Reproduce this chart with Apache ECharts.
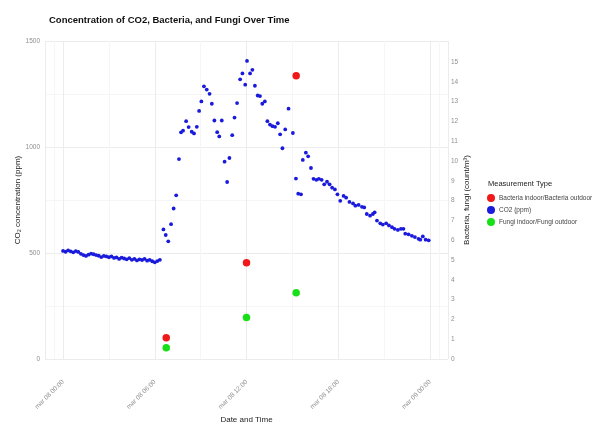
<!DOCTYPE html>
<html>
<head>
<meta charset="utf-8">
<script src="https://cdn.jsdelivr.net/npm/echarts@6/dist/echarts.min.js"></script>
<style>html,body{margin:0;padding:0;background:#fff}#c{width:611px;height:429px}</style>
</head>
<body>
<div id="c"></div>
<script>
// ---- data ----
const baseDate = Date.UTC(2023, 2, 8, 0, 0);   // mar 08 00:00
const monthLabel = 'mar';
const leftTicks = [0, 500, 1000, 1500];
// CO2 flat night section: every 10 minutes from 00:00
const co2FlatPpm = [510,506,512,508,503,509,505,496,490,486,492,497,494,490,487,481,486,484,480,484,477,479,472,478,474,470,476,468,472,465,470,467,472,464,468,461,456,462,468];
// CO2 after 06:30 (minutes since 00:00)
const co2Minutes = [394,403,413,424,434,444,455,463,471,483,
  493,505,514,525,534,543,553,564,575,584,
  594,605,613,623,634,644,653,664,673,683,
  695,704,715,722,734,743,753,764,773,782,
  792,802,812,822,832,843,852,861,872,885,
  902,914,923,934,941,953,962,973,983,994,
  1004,1015,1025,1036,1046,1056,1067,1077,1088,1101,
  1111,1124,1138,1147,1160,1173,1182,1192,1205,1216,
  1223,1232,1245,1255,1268,1279,1291,1301,1314,1326,
  1336,1343,1356,1369,1381,1395,1402,1412,1423,1435];
const co2Ppm = [611,585,555,636,710,772,943,1069,1077,1122,
  1094,1072,1064,1095,1170,1215,1286,1271,1251,1204,
  1125,1070,1050,1125,931,835,948,1056,1139,1207,
  1319,1347,1294,1406,1347,1364,1289,1243,1240,1204,
  1215,1122,1106,1098,1095,1112,1060,994,1083,1181,
  1066,851,780,777,939,973,956,901,850,845,
  850,845,824,836,824,808,800,777,746,769,
  761,741,734,723,727,718,715,684,676,684,
  692,653,640,634,640,630,622,614,609,614,
  614,591,588,581,575,567,563,578,563,560];
const sampleMinutes = [405, 720, 915];
const bacteriaRatio = [1.07, 4.86, 14.3];
const fungiRatio = [0.57, 2.1, 3.35];
const seriesNames = ['Bacteria indoor/Bacteria outdoor', 'CO2 (ppm)', 'Fungi indoor/Fungi outdoor'];

// ---- build ----
const MIN = 60000;
const HOUR = 60 * MIN;
const co2Data = co2FlatPpm.map((v, i) => [baseDate + i * 10 * MIN, v])
  .concat(co2Minutes.map((m, i) => [baseDate + m * MIN, co2Ppm[i]]));
const bactData = sampleMinutes.map((m, i) => [baseDate + m * MIN, bacteriaRatio[i]]);
const fungData = sampleMinutes.map((m, i) => [baseDate + m * MIN, fungiRatio[i]]);
const pad = n => String(n).padStart(2, '0');

const chart = echarts.init(document.getElementById('c'), null, {renderer: 'canvas'});
const labelColor = '#8f8f8f';
const gridMajor = '#ececec';
const gridMinor = '#f6f6f6';
chart.setOption({
  useUTC: true,
  animation: false,
  backgroundColor: '#fff',
  textStyle: {fontFamily: 'Liberation Sans, Arial, sans-serif'},
  title: [
    {text: 'Concentration of CO2, Bacteria, and Fungi Over Time', left: 44, top: 10,
     textStyle: {fontSize: 9.5, fontWeight: 'bold', color: '#111'}},
    {text: 'Measurement Type', left: 483, top: 175,
     textStyle: {fontSize: 7.5, fontWeight: 'normal', color: '#222'}}
  ],
  legend: {
    orient: 'vertical', left: 482, top: 189,
    itemWidth: 8, itemHeight: 8, itemGap: 4,
    icon: 'circle',
    data: seriesNames,
    textStyle: {fontSize: 6.5, color: '#444', padding: [0, 0, 0, -1]}
  },
  grid: {left: 45, right: 163, top: 41, bottom: 65.5},
  xAxis: {
    type: 'time',
    min: baseDate - 1.18 * HOUR,
    max: baseDate + 25.18 * HOUR,
    splitNumber: 4,
    name: 'Date and Time',
    nameLocation: 'middle',
    nameGap: 57,
    nameMoveOverlap: false,
    nameTextStyle: {fontSize: 8, color: '#222'},
    axisLine: {show: false},
    axisTick: {show: false},
    axisLabel: {
      rotate: 45, fontSize: 6.5, color: labelColor, margin: 22,
      formatter: v => {
        const d = new Date(v);
        return monthLabel + ' ' + pad(d.getUTCDate()) + ' ' + pad(d.getUTCHours()) + ':' + pad(d.getUTCMinutes());
      }
    },
    splitLine: {show: true, lineStyle: {color: gridMajor, width: 1}},
    minorTick: {show: false, splitNumber: 2},
    minorSplitLine: {show: true, lineStyle: {color: gridMinor, width: 1}}
  },
  yAxis: [
    {
      type: 'value', min: leftTicks[0], max: leftTicks[leftTicks.length - 1], interval: 500,
      name: 'CO₂ concentration (ppm)',
      nameLocation: 'middle', nameGap: 23, nameRotate: 90,
      nameMoveOverlap: false,
      nameTextStyle: {fontSize: 8, color: '#222'},
      axisLine: {show: false}, axisTick: {show: false},
      axisLabel: {fontSize: 6.5, color: labelColor, margin: 5, formatter: v => String(v)},
      splitLine: {show: true, lineStyle: {color: gridMajor, width: 1}},
      minorTick: {show: false, splitNumber: 2},
      minorSplitLine: {show: true, lineStyle: {color: gridMinor, width: 1}}
    },
    {
      type: 'value', min: 0, max: 16.06, interval: 1,
      name: 'Bacteria, fungi (count/m³)',
      nameLocation: 'middle', nameGap: 15, nameRotate: 90,
      nameMoveOverlap: false,
      nameTextStyle: {fontSize: 8, color: '#222'},
      axisLine: {show: false}, axisTick: {show: false},
      axisLabel: {fontSize: 6.5, color: labelColor, margin: 3,
        formatter: v => (v > 15.01 ? '' : String(Math.round(v)))},
      splitLine: {show: false}
    }
  ],
  series: [
    {name: seriesNames[1], type: 'scatter', yAxisIndex: 0, data: co2Data,
     symbolSize: 3.8, itemStyle: {color: '#1a1adc', opacity: 1}},
    {name: seriesNames[0], type: 'scatter', yAxisIndex: 1, data: bactData,
     symbolSize: 7.5, itemStyle: {color: '#f01818', opacity: 1}},
    {name: seriesNames[2], type: 'scatter', yAxisIndex: 1, data: fungData,
     symbolSize: 7.5, itemStyle: {color: '#18e018', opacity: 1}}
  ]
});
</script>
</body>
</html>
